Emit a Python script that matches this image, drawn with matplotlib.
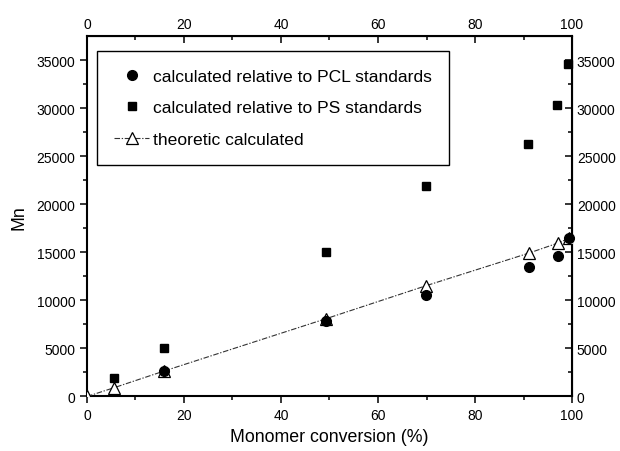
import matplotlib
matplotlib.use("Agg")
import matplotlib.pyplot as plt

plt.rcParams['font.family'] = ['Liberation Sans', 'DejaVu Sans']

# monomer conversion (%) and Mn values
conv_pcl = [15.9, 49.3, 69.8, 91.1, 97.1, 99.3]
mn_pcl = [2650, 7900, 10550, 13450, 14650, 16450]

conv_ps = [5.5, 15.9, 49.3, 69.8, 91.0, 97.0, 99.2]
mn_ps = [1950, 5000, 15000, 21860, 26300, 30350, 34600]

conv_th = [0, 5.5, 15.9, 49.3, 69.9, 91.2, 97.2, 99.3]
mn_th = [0, 900, 2650, 8100, 11530, 14940, 15990, 16450]

x_ticks = [0, 20, 40, 60, 80, 100]
y_ticks = [0, 5000, 10000, 15000, 20000, 25000, 30000, 35000]

fig = plt.figure(figsize=(6.2, 4.52), dpi=100)
ax = fig.add_axes([0.1403, 0.1206, 0.7823, 0.797])

ax.plot(conv_th, mn_th, color='#333333', lw=0.8, dashes=(5, 1.5, 1.2, 1.5),
        marker='^', ms=8.5, mfc='white', mec='black', mew=0.9,
        label='theoretic calculated', zorder=3)
ax.plot(conv_pcl, mn_pcl, ls='none', marker='o', ms=7, color='black',
        label='calculated relative to PCL standards', zorder=4, clip_on=False)
ax.plot(conv_ps, mn_ps, ls='none', marker='s', ms=6, color='black',
        label='calculated relative to PS standards', zorder=4, clip_on=False)

ax.set_xlim(0, 100)
ax.set_ylim(0, 37500)
ax.set_xticks(x_ticks)
ax.set_yticks(y_ticks)
ax.set_xticks(range(10, 100, 20), minor=True)
ax.set_yticks(range(2500, 37500, 5000), minor=True)
ax.tick_params(which='both', direction='out', labelsize=10, width=1.1, top=False, right=False)
ax.tick_params(which='major', length=5)
ax.tick_params(which='minor', length=3)

for s in ax.spines.values():
    s.set_linewidth(1.5)

top = ax.secondary_xaxis('top')
top.set_xticks(x_ticks)
top.set_xticks(range(10, 100, 20), minor=True)
top.tick_params(which='both', direction='in', labelsize=10, width=1.1)
top.tick_params(which='major', length=5)
top.tick_params(which='minor', length=3)

right = ax.secondary_yaxis('right')
right.set_yticks(y_ticks)
right.set_yticks(range(2500, 37500, 5000), minor=True)
right.tick_params(which='both', direction='in', labelsize=10, width=1.1)
right.tick_params(which='major', length=5)
right.tick_params(which='minor', length=3)

ax.set_xlabel('Monomer conversion (%)', fontsize=12.8)
ax.set_ylabel('Mn', fontsize=12.8, labelpad=6)

h, l = ax.get_legend_handles_labels()
order = [1, 2, 0]
leg = ax.legend([h[i] for i in order], [l[i] for i in order],
                loc='upper left', bbox_to_anchor=(0.0206, 0.959), borderaxespad=0,
                fontsize=12.6, frameon=True, fancybox=False, framealpha=1,
                edgecolor='black', borderpad=1.0, labelspacing=0.94,
                handlelength=2.0, handletextpad=0.2)
leg.get_frame().set_linewidth(1.0)

fig.savefig('out.png', dpi=100)
